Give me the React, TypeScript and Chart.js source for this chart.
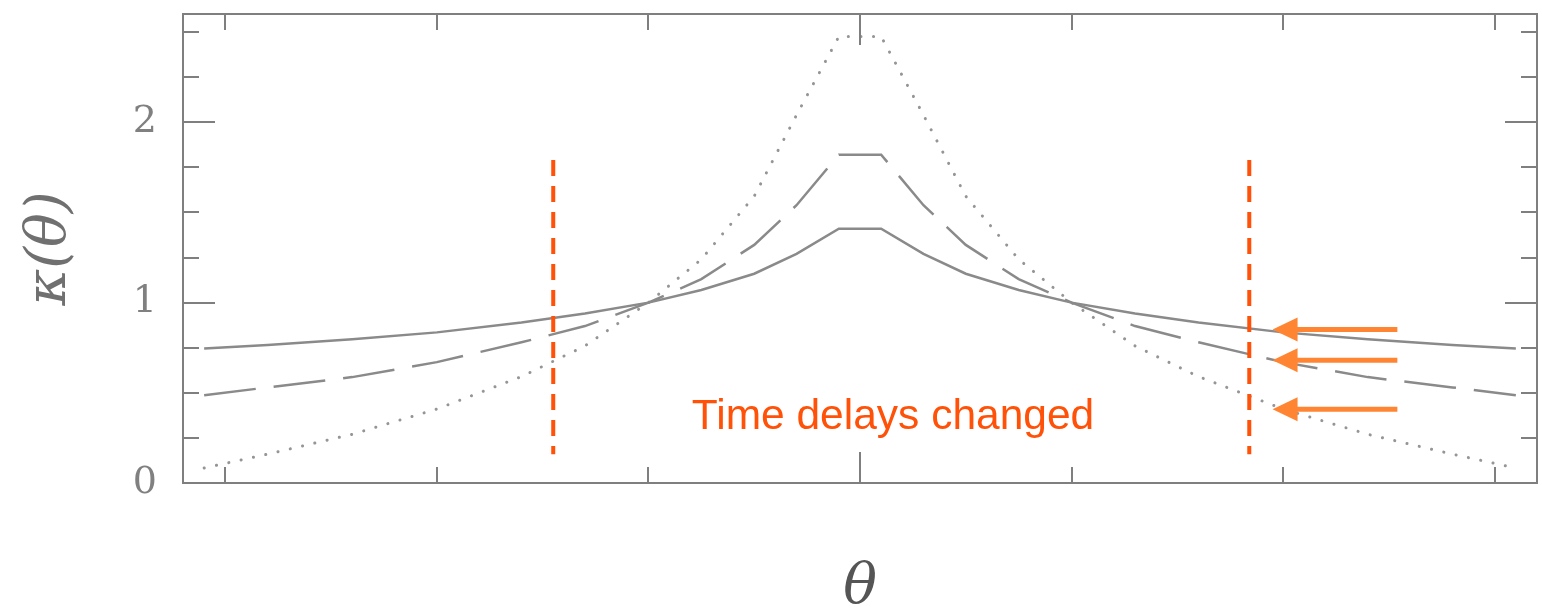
import { useEffect, useRef } from 'react';
import { Chart, registerables } from 'chart.js';

Chart.register(...registerables);

// angular position theta (arbitrary units, centred on 0)
const theta = [-3.1, -2.8, -2.4, -2.0, -1.6, -1.3, -1.0, -0.75, -0.5, -0.3, -0.1, 0.1, 0.3, 0.5, 0.75, 1.0, 1.3, 1.6, 2.0, 2.4, 2.8, 3.1];
// convergence kappa(theta) for three profiles
const kappaSolid = [0.746, 0.765, 0.797, 0.835, 0.89, 0.94, 1.0, 1.07, 1.16, 1.27, 1.41, 1.41, 1.27, 1.16, 1.07, 1.0, 0.94, 0.89, 0.835, 0.797, 0.765, 0.746];
const kappaDashed = [0.486, 0.53, 0.587, 0.67, 0.78, 0.87, 1.0, 1.13, 1.32, 1.54, 1.82, 1.82, 1.54, 1.32, 1.13, 1.0, 0.87, 0.78, 0.67, 0.587, 0.53, 0.486];
const kappaDotted = [0.083, 0.16, 0.27, 0.41, 0.59, 0.76, 1.0, 1.24, 1.59, 2.04, 2.475, 2.475, 2.04, 1.59, 1.24, 1.0, 0.76, 0.59, 0.41, 0.27, 0.16, 0.083];

// axes
const xRange = [-3.2, 3.2];
const yRange = [0, 2.6];
const xTickValues = [-3, -2, -1, 0, 1, 2, 3];
const xMajorTicks = [0];
const yTickLabels = [0, 1, 2];
const yMinorTicks = [0.25, 0.5, 0.75, 1.25, 1.5, 1.75, 2.25, 2.5];

// annotations (data coordinates)
const markerLinesTheta = [-1.45, 1.84];
const markerLineKappa = [0.16, 1.79];
const arrowKappa = [0.851, 0.68, 0.409];
const arrowTheta = [2.54, 1.95]; // tail, tip
const noteText = 'Time delays changed';
const noteTheta = 0.156;
const noteKappa = 0.298;

const GRAY = '#8a8a8a';
const AXIS = '#7f7f7f';
const RED_ORANGE = '#ff5208';
const ORANGE = '#ff8533';

const framePlugin = {
  id: 'framePlugin',
  afterDraw(chart: any) {
    const { ctx, chartArea, scales } = chart;
    const { left, right, top, bottom } = chartArea;
    const xs = scales.x;
    const ys = scales.y;
    ctx.save();
    // frame
    ctx.strokeStyle = AXIS;
    ctx.lineWidth = 2;
    ctx.setLineDash([]);
    ctx.strokeRect(left, top, right - left, bottom - top);
    // x ticks (bottom & top, inward)
    xTickValues.forEach((v) => {
      const px = Math.round(xs.getPixelForValue(v));
      const len = xMajorTicks.includes(v) ? 31 : 16;
      ctx.beginPath();
      ctx.moveTo(px, bottom);
      ctx.lineTo(px, bottom - len);
      ctx.moveTo(px, top);
      ctx.lineTo(px, top + len);
      ctx.stroke();
    });
    // y ticks (left & right, inward)
    const yAll = [...yTickLabels.map((v) => ({ v, major: true })), ...yMinorTicks.map((v) => ({ v, major: false }))];
    yAll.forEach(({ v, major }) => {
      const py = Math.round(ys.getPixelForValue(v));
      const len = major ? 32 : 16;
      ctx.beginPath();
      ctx.moveTo(left, py);
      ctx.lineTo(left + len, py);
      ctx.moveTo(right, py);
      ctx.lineTo(right - len, py);
      ctx.stroke();
    });
    // vertical dashed markers
    ctx.strokeStyle = RED_ORANGE;
    ctx.lineWidth = 4;
    ctx.setLineDash([16, 10]);
    markerLinesTheta.forEach((t) => {
      const px = xs.getPixelForValue(t);
      ctx.beginPath();
      ctx.moveTo(px, ys.getPixelForValue(markerLineKappa[1]));
      ctx.lineTo(px, ys.getPixelForValue(markerLineKappa[0]));
      ctx.stroke();
    });
    ctx.setLineDash([]);
    // arrows
    ctx.strokeStyle = ORANGE;
    ctx.fillStyle = ORANGE;
    ctx.lineWidth = 5;
    arrowKappa.forEach((k) => {
      const py = ys.getPixelForValue(k);
      const xTail = xs.getPixelForValue(arrowTheta[0]);
      const xTip = xs.getPixelForValue(arrowTheta[1]);
      const headLen = 25;
      ctx.beginPath();
      ctx.moveTo(xTail, py);
      ctx.lineTo(xTip + headLen - 2, py);
      ctx.stroke();
      ctx.beginPath();
      ctx.moveTo(xTip, py);
      ctx.lineTo(xTip + headLen, py - 12);
      ctx.lineTo(xTip + headLen, py + 12);
      ctx.closePath();
      ctx.fill();
    });
    // note
    ctx.fillStyle = RED_ORANGE;
    ctx.font = '42.5px "Liberation Sans", Arial, sans-serif';
    ctx.textAlign = 'center';
    ctx.textBaseline = 'alphabetic';
    ctx.fillText(noteText, xs.getPixelForValue(noteTheta), ys.getPixelForValue(noteKappa));
    ctx.restore();
  },
};

export default function App() {
  const ref = useRef<HTMLCanvasElement>(null);
  useEffect(() => {
    document.body.style.margin = '0';
    const mk = (arr: number[]) => theta.map((t, i) => ({ x: t, y: arr[i] }));
    const chart = new Chart(ref.current!, {
      type: 'line',
      data: {
        datasets: [
          { data: mk(kappaSolid), borderColor: GRAY, borderWidth: 2.5, pointRadius: 0, tension: 0, fill: false },
          { data: mk(kappaDashed), borderColor: GRAY, borderWidth: 2.5, borderDash: [52, 18], pointRadius: 0, tension: 0, fill: false },
          { data: mk(kappaDotted), borderColor: '#959595', borderWidth: 3, borderDash: [0.1, 12.5], borderCapStyle: 'round', pointRadius: 0, tension: 0, fill: false },
        ],
      },
      options: {
        animation: false,
        responsive: false,
        maintainAspectRatio: false,
        devicePixelRatio: 1,
        layout: { padding: { top: 14, right: 5, left: 0, bottom: 0 } },
        plugins: { legend: { display: false }, tooltip: { enabled: false } },
        scales: {
          x: {
            type: 'linear',
            min: xRange[0],
            max: xRange[1],
            ticks: { display: false },
            grid: { display: false, drawTicks: false },
            border: { display: false },
            title: {
              display: true,
              text: 'θ',
              color: '#555',
              font: { family: '"DejaVu Serif", serif', style: 'italic', size: 56, lineHeight: 1 },
              padding: { top: 0, bottom: -7 },
            },
            afterFit: (s: any) => { s.height = 126; s.paddingLeft = 0; s.paddingRight = 0; },
          },
          y: {
            type: 'linear',
            min: yRange[0],
            max: yRange[1],
            afterBuildTicks: (s: any) => { s.ticks = yTickLabels.map((v) => ({ value: v })); },
            ticks: { color: '#808080', font: { family: '"DejaVu Serif", serif', size: 38 }, padding: 26 },
            grid: { display: false, drawTicks: false },
            border: { display: false },
            title: {
              display: true,
              text: 'κ(θ)',
              color: '#707070',
              font: { family: '"DejaVu Serif", serif', style: 'italic', size: 56, lineHeight: 1 },
              padding: { top: 22, bottom: 0 },
            },
            afterFit: (s: any) => { s.width = 183; s.paddingTop = 0; s.paddingBottom = 0; },
          },
        },
      },
      plugins: [framePlugin],
    } as any);
    return () => chart.destroy();
  }, []);
  return (
    <div style={{ width: 1542, height: 609 }}>
      <canvas ref={ref} width={1542} height={609} style={{ display: 'block' }} />
    </div>
  );
}
